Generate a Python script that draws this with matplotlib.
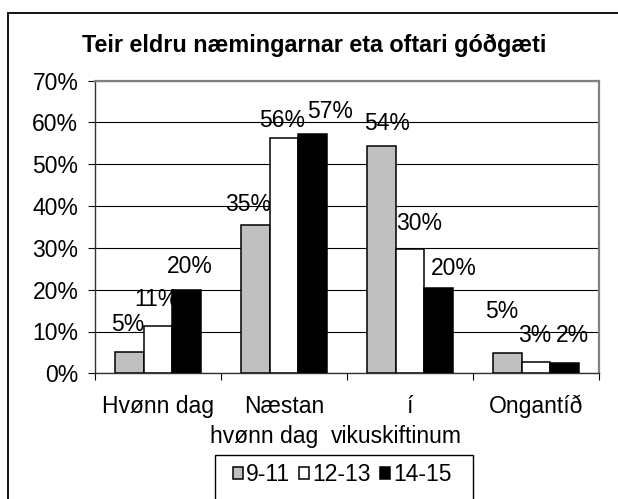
import matplotlib
matplotlib.use("Agg")
import matplotlib.pyplot as plt
from matplotlib.patches import Rectangle
from matplotlib.ticker import FixedLocator, FuncFormatter
import numpy as np

plt.rcParams["font.family"] = ["Liberation Sans", "DejaVu Sans"]

# ── data ──────────────────────────────────────────────────────────────────────
categories = ["Hvønn dag", "Næstan\nhvønn dag", "í\nvikuskiftinum", "Ongantíð"]
series = ["9-11", "12-13", "14-15"]
vals_9_11 = [5.2, 35.4, 54.3, 4.8]
vals_12_13 = [11.2, 56.3, 29.8, 2.8]
vals_14_15 = [20.0, 57.3, 20.4, 2.4]
y_ticks = [0, 10, 20, 30, 40, 50, 60, 70]
title = "Teir eldru næmingarnar eta oftari góðgæti"

# ── style ─────────────────────────────────────────────────────────────────────
colors = ["#c0c0c0", "#ffffff", "#000000"]
# label nudges (dx, gap above bar) in pixels, as placed in the original sheet
label_nudge = [
    [(-2, 21), (-7, 14), (6, 16), (-6, 35)],
    [(-2, 20), (-2, 11), (9, 19), (-1, 20)],
    [(3, 17), (18, 16), (15, 13), (8, 21)],
]
second_line_dx = [0, -20, -14, 0]
FS = 16.5

fig = plt.figure(figsize=(6.18, 4.99), dpi=100)
ax = fig.add_axes([95 / 618, 1 - 373.3 / 499, 504 / 618, 292.6 / 499])

x = np.arange(len(categories))
w = 0.226
all_vals = [vals_9_11, vals_12_13, vals_14_15]
for k, (vals, c) in enumerate(zip(all_vals, colors)):
    xs = x + (k - 1) * w
    ax.bar(xs, vals, width=w, color=c, edgecolor="black", linewidth=1.1, zorder=3,
           label=series[k])
    for i, v in enumerate(vals):
        dx, dy = label_nudge[k][i]
        ax.annotate(f"{round(v)}%", xy=(xs[i], v), xytext=(dx, dy),
                    textcoords="offset pixels", ha="center", va="baseline",
                    fontsize=FS, zorder=4)

ax.set_xlim(-0.5, len(categories) - 0.5)
ax.set_ylim(0, 70)
ax.yaxis.set_major_locator(FixedLocator(y_ticks))
ax.yaxis.set_major_formatter(FuncFormatter(lambda v, p: f"{v:.0f}%"))
ax.grid(axis="y", color="black", linewidth=0.8, zorder=0)
ax.tick_params(axis="y", direction="out", length=5, width=0.8, pad=7, labelsize=FS)

# category boundaries as ticks, labels drawn by hand (two-line wrap as in Excel)
ax.set_xticks(np.arange(-0.5, len(categories)), minor=False)
ax.set_xticklabels([])
ax.tick_params(axis="x", direction="out", length=5, width=0.8)
for i, cat in enumerate(categories):
    lines = cat.split("\n")
    ax.annotate(lines[0], xy=(i, 0), xycoords=("data", "axes fraction"),
                xytext=(0, -39.7), textcoords="offset pixels",
                ha="center", va="baseline", fontsize=FS)
    if len(lines) > 1:
        ax.annotate(lines[1], xy=(i, 0), xycoords=("data", "axes fraction"),
                    xytext=(second_line_dx[i], -69.7), textcoords="offset pixels",
                    ha="center", va="baseline", fontsize=FS)

for side in ["top", "right"]:
    ax.spines[side].set_color("#808080")
    ax.spines[side].set_linewidth(1.6)
for side in ["left", "bottom"]:
    ax.spines[side].set_color("#333333")
    ax.spines[side].set_linewidth(1.0)

fig.text(314 / 618, 1 - 51.7 / 499, title, ha="center", va="baseline",
         fontsize=16.8, fontweight="bold")

# outer chart frame (runs off the right and bottom edges)
fig.patches.append(Rectangle((8 / 618, -0.2), 1.2, 0.2 + 1 - 13.3 / 499,
                             transform=fig.transFigure, fill=False,
                             edgecolor="black", linewidth=1.3))
# legend frame
fig.patches.append(Rectangle((215 / 618, -0.2), 258 / 618, 0.2 + 1 - 455 / 499,
                             transform=fig.transFigure, fill=False,
                             edgecolor="black", linewidth=1.0))
fig.legend(loc="center", bbox_to_anchor=(342 / 618, 1 - 474.5 / 499), ncol=3,
           frameon=False, fontsize=FS, handlelength=0.45, handleheight=0.45,
           handletextpad=0.12, columnspacing=0.4, borderpad=0)

fig.savefig("out.png", dpi=100)
